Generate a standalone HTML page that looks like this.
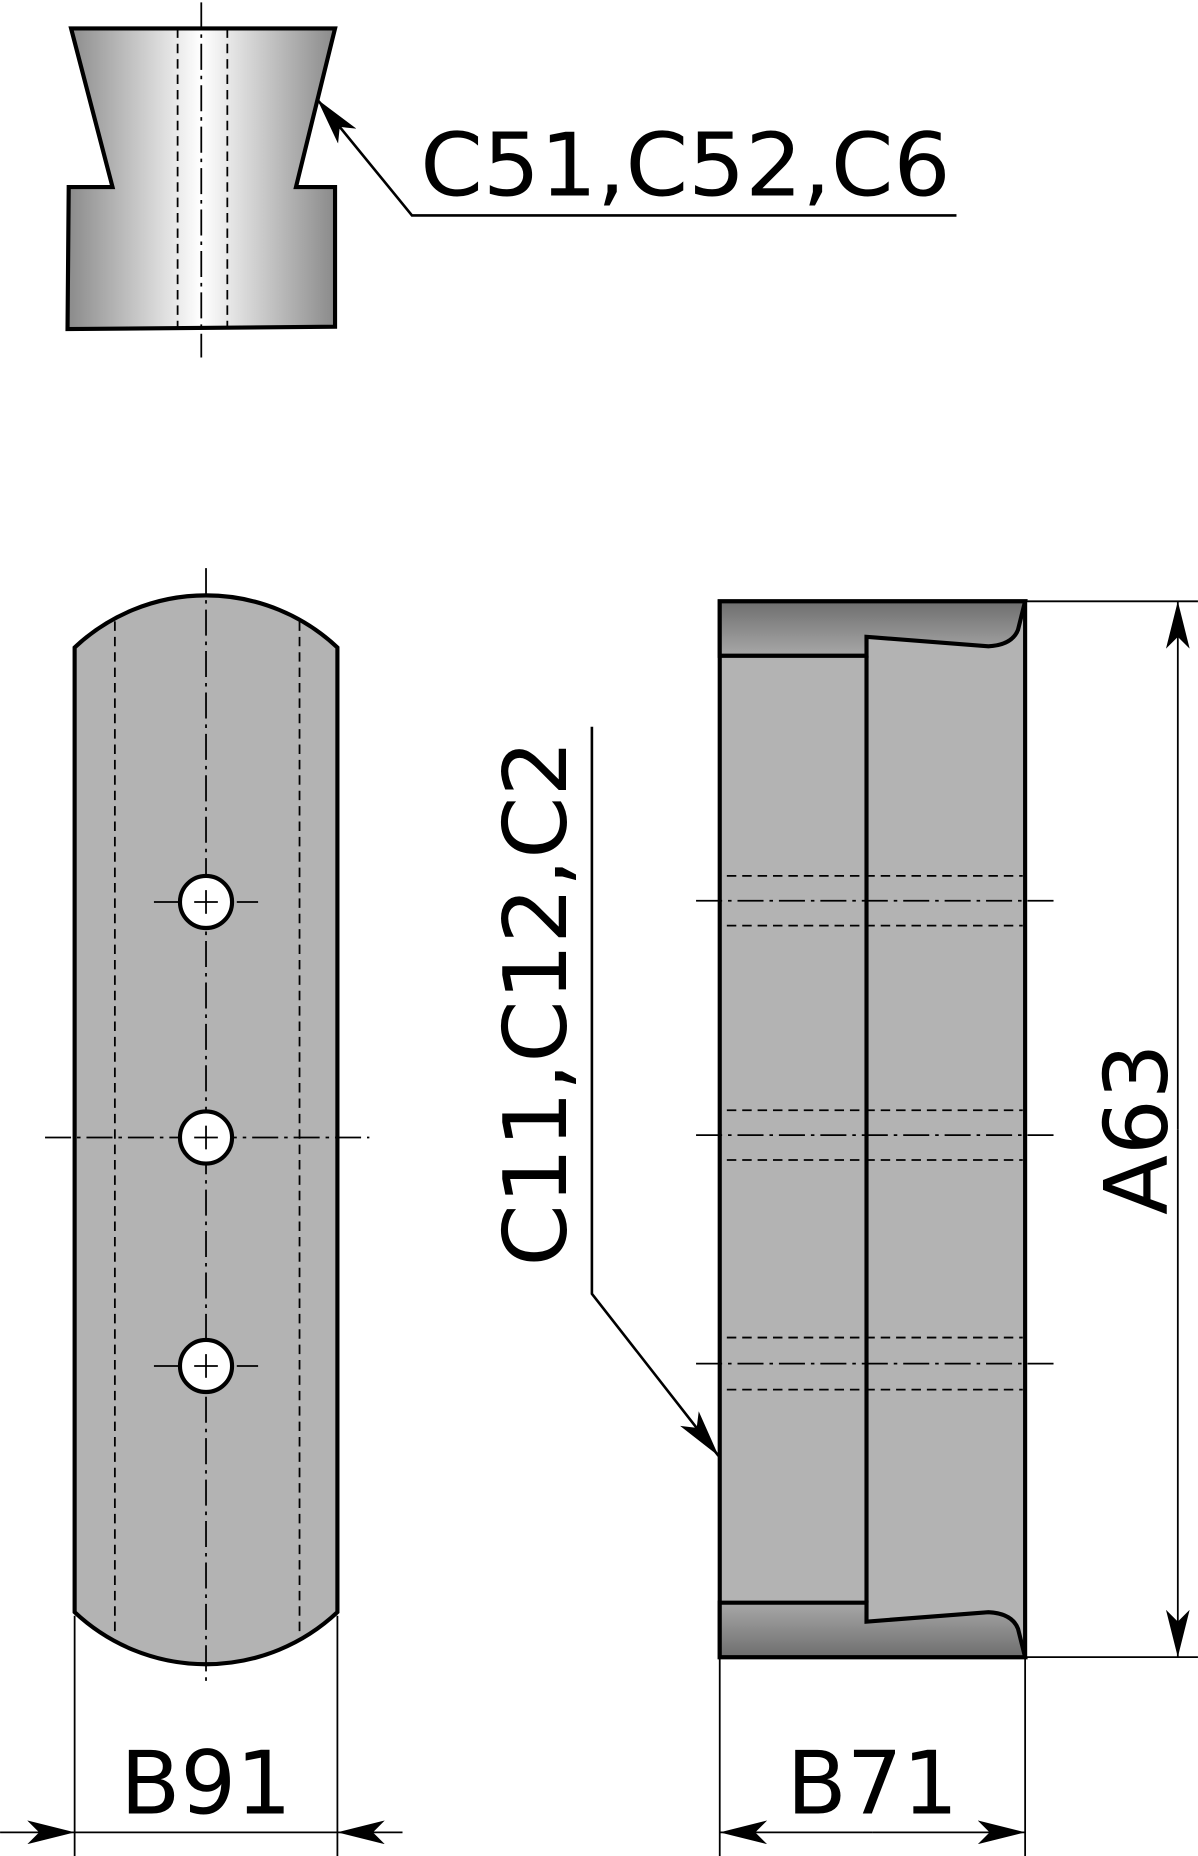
<!DOCTYPE html>
<html><head><meta charset="utf-8"><style>
html,body{margin:0;padding:0;background:#fff}
svg{display:block}
text{font-family:"DejaVu Sans","Liberation Sans",sans-serif;font-size:74px;fill:#000}
</style></head><body>
<svg width="1198" height="1856" viewBox="0 0 1012 1568" xmlns="http://www.w3.org/2000/svg">
<defs>
<linearGradient id="hg" x1="0" x2="1" y1="0" y2="0">
<stop offset="0" stop-color="#8a8a8a"/><stop offset="0.5" stop-color="#ffffff"/><stop offset="1" stop-color="#8a8a8a"/>
</linearGradient>
<linearGradient id="vt" x1="0" x2="0" y1="0" y2="1">
<stop offset="0" stop-color="#6e6e6e"/><stop offset="1" stop-color="#a8a8a8"/>
</linearGradient>
<linearGradient id="vb" x1="0" x2="0" y1="1" y2="0">
<stop offset="0" stop-color="#6e6e6e"/><stop offset="1" stop-color="#a8a8a8"/>
</linearGradient>
<marker id="ar" viewBox="0 0 40 20" refX="40" refY="10" markerWidth="40" markerHeight="20" markerUnits="userSpaceOnUse" orient="auto">
<path d="M0,0 L40,10 L0,20 L10,10 Z" fill="#000"/>
</marker>
</defs>

<path d="M60,24 L283,24 L250,158 L283,158 L283,276 L57,278 L58,158 L95,158 Z" fill="url(#hg)" stroke="#000" stroke-width="3.5"/>
<g stroke="#000" stroke-width="1.5" fill="none">
<line x1="150" y1="24" x2="150" y2="276" stroke-dasharray="8,5"/>
<line x1="192" y1="24" x2="192" y2="276" stroke-dasharray="8,5"/>
<line x1="170" y1="2" x2="170" y2="302" stroke-dasharray="22,5,3,5"/>
</g>
<polyline points="808,182 348,182 268,84" fill="none" stroke="#000" stroke-width="2.2" marker-end="url(#ar)"/>
<text x="355" y="165" textLength="448" lengthAdjust="spacingAndGlyphs">C51,C52,C6</text>

<path d="M63,547 A162,162 0 0 1 285,547 L285,1362 A162,162 0 0 1 63,1362 Z" fill="#b3b3b3" stroke="#000" stroke-width="3.5"/>
<g stroke="#000" stroke-width="1.5" fill="none">
<line x1="97" y1="525" x2="97" y2="1383" stroke-dasharray="8,5"/>
<line x1="253" y1="525" x2="253" y2="1383" stroke-dasharray="8,5"/>
<line x1="174" y1="480" x2="174" y2="1425" stroke-dasharray="22,5,3,5"/>
<line x1="130" y1="762" x2="218" y2="762" stroke-dasharray="22,5,3,5"/>
<line x1="38" y1="961" x2="312" y2="961" stroke-dasharray="22,5,3,5"/>
<line x1="130" y1="1154" x2="218" y2="1154" stroke-dasharray="22,5,3,5"/>
</g>
<g fill="#fff" stroke="#000" stroke-width="3.5">
<circle cx="174" cy="762" r="22"/><circle cx="174" cy="961" r="22"/><circle cx="174" cy="1154" r="22"/>
</g>
<g stroke="#000" stroke-width="1.5">
<line x1="164" y1="762" x2="184" y2="762"/><line x1="174" y1="752" x2="174" y2="772"/>
<line x1="164" y1="961" x2="184" y2="961"/><line x1="174" y1="951" x2="174" y2="971"/>
<line x1="164" y1="1154" x2="184" y2="1154"/><line x1="174" y1="1144" x2="174" y2="1164"/>
</g>
<g stroke="#000" stroke-width="1.5" fill="none">
<line x1="63" y1="1365" x2="63" y2="1568"/>
<line x1="285" y1="1365" x2="285" y2="1568"/>
<line x1="0" y1="1548" x2="63" y2="1548" marker-end="url(#ar)"/>
<line x1="340" y1="1548" x2="285" y2="1548" marker-end="url(#ar)"/>
<line x1="63" y1="1548" x2="285" y2="1548"/>
</g>
<text x="174" y="1532" text-anchor="middle">B91</text>

<rect x="608" y="508" width="258" height="892" fill="#b3b3b3" stroke="#000" stroke-width="3.5"/>
<path d="M608,508 L866,508 L860,532 Q855,545 835,546 L732,538 L732,554 L608,554 Z" fill="url(#vt)" stroke="#000" stroke-width="3.5"/>
<path d="M608,1400 L866,1400 L860,1376 Q855,1363 835,1362 L732,1370 L732,1354 L608,1354 Z" fill="url(#vb)" stroke="#000" stroke-width="3.5"/>
<line x1="732" y1="554" x2="732" y2="1354" stroke="#000" stroke-width="3.5"/>
<g stroke="#000" stroke-width="1.5" fill="none">
<line x1="614" y1="740" x2="864" y2="740" stroke-dasharray="8,5"/>
<line x1="614" y1="782" x2="864" y2="782" stroke-dasharray="8,5"/>
<line x1="588" y1="761" x2="890" y2="761" stroke-dasharray="22,5,3,5"/>
<line x1="614" y1="938" x2="864" y2="938" stroke-dasharray="8,5"/>
<line x1="614" y1="980" x2="864" y2="980" stroke-dasharray="8,5"/>
<line x1="588" y1="959" x2="890" y2="959" stroke-dasharray="22,5,3,5"/>
<line x1="614" y1="1130" x2="864" y2="1130" stroke-dasharray="8,5"/>
<line x1="614" y1="1174" x2="864" y2="1174" stroke-dasharray="8,5"/>
<line x1="588" y1="1152" x2="890" y2="1152" stroke-dasharray="22,5,3,5"/>
</g>
<polyline points="500,614 500,1093 607,1230" fill="none" stroke="#000" stroke-width="2.2" marker-end="url(#ar)"/>
<text transform="translate(478,1070) rotate(-90)" x="0" y="0" textLength="445" lengthAdjust="spacingAndGlyphs">C11,C12,C2</text>

<g stroke="#000" stroke-width="1.5" fill="none">
<line x1="866" y1="508" x2="1012" y2="508"/>
<line x1="866" y1="1400" x2="1012" y2="1400"/>
<line x1="995" y1="954" x2="995" y2="508" marker-end="url(#ar)"/>
<line x1="995" y1="954" x2="995" y2="1400" marker-end="url(#ar)"/>
<line x1="608" y1="1400" x2="608" y2="1568"/>
<line x1="866" y1="1400" x2="866" y2="1568"/>
<line x1="737" y1="1548" x2="608" y2="1548" marker-end="url(#ar)"/>
<line x1="737" y1="1548" x2="866" y2="1548" marker-end="url(#ar)"/>
</g>
<text transform="translate(986,954) rotate(-90)" text-anchor="middle">A63</text>
<text x="737" y="1532" text-anchor="middle">B71</text>
</svg>
</body></html>
